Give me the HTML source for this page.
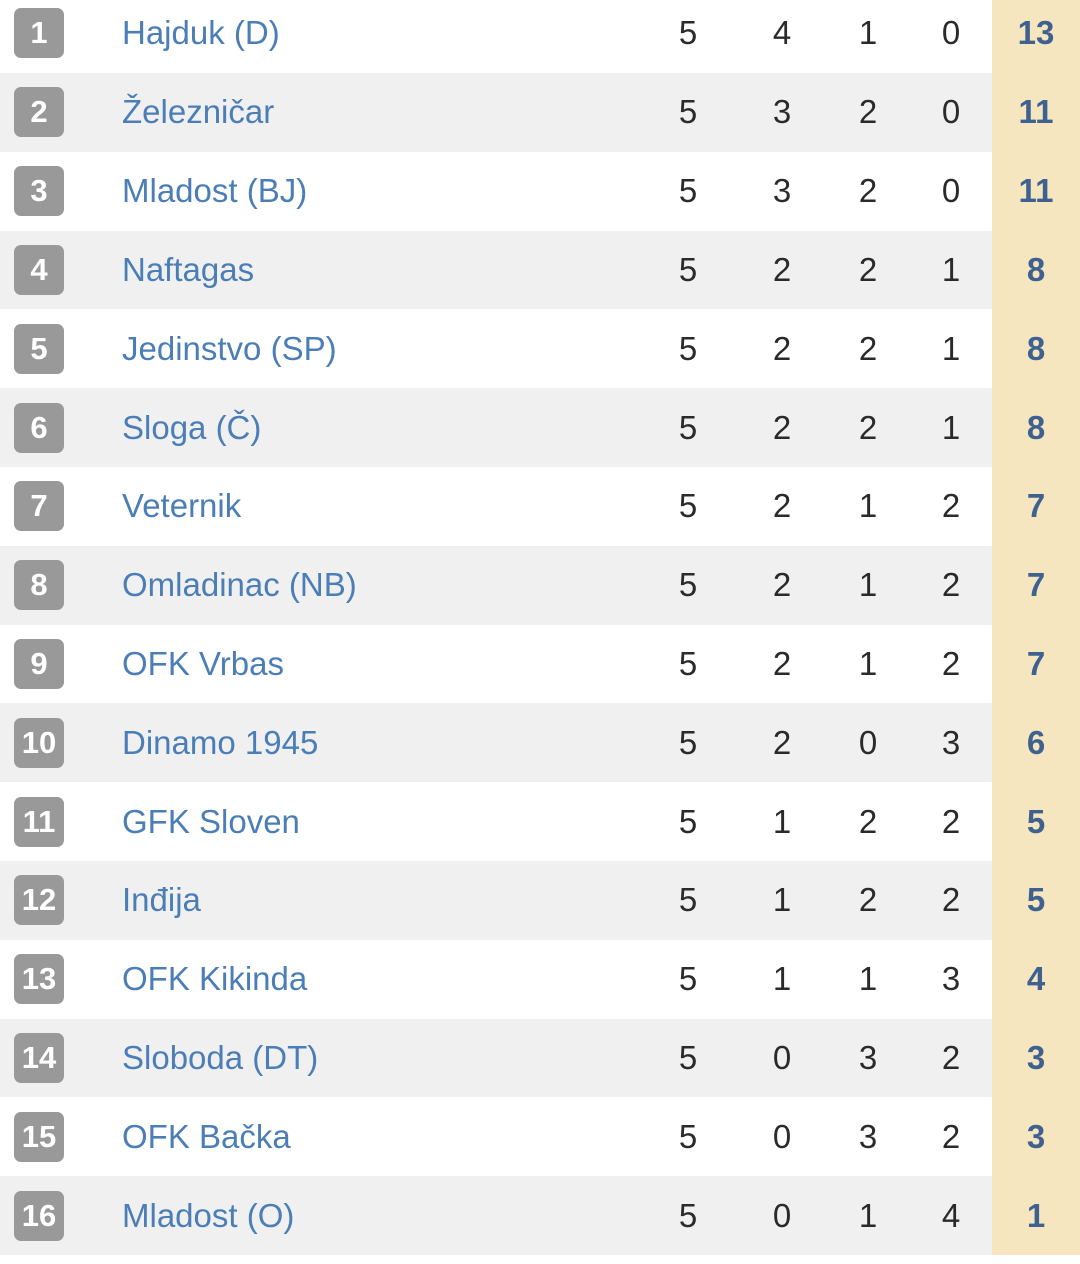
<!DOCTYPE html>
<html><head><meta charset="utf-8"><style>
body{margin:0;width:1080px;height:1264px;background:#fff;position:relative;overflow:hidden;font-family:"Liberation Sans","DejaVu Sans",sans-serif}
.r{position:absolute;left:0;width:1080px;height:78.8px}
.g{background:#f0f0f0}
.r>div{position:absolute;top:20.4px;line-height:38px;font-size:33px}
.r>.p{left:992px;width:88px;top:0;height:100%;background:#f5e6c0}
.r>.b{left:14px;top:14.4px;width:50px;height:50px;border-radius:7px;background:#999;color:#fff;font-weight:bold;font-size:31px;text-align:center;line-height:50px}
.r>.n{left:122px;color:#4b7eb7}
.r>.c{width:60px;text-align:center;color:#2a2a2a}
.c1{left:658px}.c2{left:752px}.c3{left:838px}.c4{left:921px}
.r>.pt{left:1006px;width:60px;text-align:center;color:#3e6190;font-weight:bold}
.f{height:73px}
.f>div{top:14px}
.f>.b{top:8px}
</style></head><body>
<div class="r f" style="top:0"><div class="p"></div><div class="b">1</div><div class="n">Hajduk (D)</div><div class="c c1">5</div><div class="c c2">4</div><div class="c c3">1</div><div class="c c4">0</div><div class="pt">13</div></div>
<div class="r g" style="top:73px"><div class="p"></div><div class="b">2</div><div class="n">Železničar</div><div class="c c1">5</div><div class="c c2">3</div><div class="c c3">2</div><div class="c c4">0</div><div class="pt">11</div></div>
<div class="r" style="top:151.8px"><div class="p"></div><div class="b">3</div><div class="n">Mladost (BJ)</div><div class="c c1">5</div><div class="c c2">3</div><div class="c c3">2</div><div class="c c4">0</div><div class="pt">11</div></div>
<div class="r g" style="top:230.6px"><div class="p"></div><div class="b">4</div><div class="n">Naftagas</div><div class="c c1">5</div><div class="c c2">2</div><div class="c c3">2</div><div class="c c4">1</div><div class="pt">8</div></div>
<div class="r" style="top:309.4px"><div class="p"></div><div class="b">5</div><div class="n">Jedinstvo (SP)</div><div class="c c1">5</div><div class="c c2">2</div><div class="c c3">2</div><div class="c c4">1</div><div class="pt">8</div></div>
<div class="r g" style="top:388.2px"><div class="p"></div><div class="b">6</div><div class="n">Sloga (Č)</div><div class="c c1">5</div><div class="c c2">2</div><div class="c c3">2</div><div class="c c4">1</div><div class="pt">8</div></div>
<div class="r" style="top:467px"><div class="p"></div><div class="b">7</div><div class="n">Veternik</div><div class="c c1">5</div><div class="c c2">2</div><div class="c c3">1</div><div class="c c4">2</div><div class="pt">7</div></div>
<div class="r g" style="top:545.8px"><div class="p"></div><div class="b">8</div><div class="n">Omladinac (NB)</div><div class="c c1">5</div><div class="c c2">2</div><div class="c c3">1</div><div class="c c4">2</div><div class="pt">7</div></div>
<div class="r" style="top:624.6px"><div class="p"></div><div class="b">9</div><div class="n">OFK Vrbas</div><div class="c c1">5</div><div class="c c2">2</div><div class="c c3">1</div><div class="c c4">2</div><div class="pt">7</div></div>
<div class="r g" style="top:703.4px"><div class="p"></div><div class="b">10</div><div class="n">Dinamo 1945</div><div class="c c1">5</div><div class="c c2">2</div><div class="c c3">0</div><div class="c c4">3</div><div class="pt">6</div></div>
<div class="r" style="top:782.2px"><div class="p"></div><div class="b">11</div><div class="n">GFK Sloven</div><div class="c c1">5</div><div class="c c2">1</div><div class="c c3">2</div><div class="c c4">2</div><div class="pt">5</div></div>
<div class="r g" style="top:861px"><div class="p"></div><div class="b">12</div><div class="n">Inđija</div><div class="c c1">5</div><div class="c c2">1</div><div class="c c3">2</div><div class="c c4">2</div><div class="pt">5</div></div>
<div class="r" style="top:939.8px"><div class="p"></div><div class="b">13</div><div class="n">OFK Kikinda</div><div class="c c1">5</div><div class="c c2">1</div><div class="c c3">1</div><div class="c c4">3</div><div class="pt">4</div></div>
<div class="r g" style="top:1018.6px"><div class="p"></div><div class="b">14</div><div class="n">Sloboda (DT)</div><div class="c c1">5</div><div class="c c2">0</div><div class="c c3">3</div><div class="c c4">2</div><div class="pt">3</div></div>
<div class="r" style="top:1097.4px"><div class="p"></div><div class="b">15</div><div class="n">OFK Bačka</div><div class="c c1">5</div><div class="c c2">0</div><div class="c c3">3</div><div class="c c4">2</div><div class="pt">3</div></div>
<div class="r g" style="top:1176.2px"><div class="p"></div><div class="b">16</div><div class="n">Mladost (O)</div><div class="c c1">5</div><div class="c c2">0</div><div class="c c3">1</div><div class="c c4">4</div><div class="pt">1</div></div>
</body></html>
